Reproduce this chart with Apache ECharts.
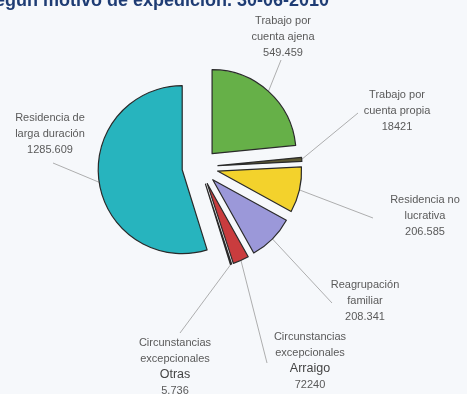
<!DOCTYPE html>
<html>
<head>
<meta charset="utf-8">
<style>
  html, body { margin: 0; padding: 0; background: #f6f8fb; }
  #chart { width: 467px; height: 394px; }
</style>
<script src="https://cdn.jsdelivr.net/npm/echarts@6/dist/echarts.min.js"></script>
</head>
<body>
<div id="chart"></div>
<script>
// Permits by type of authorisation
const categories = [
  'Trabajo por cuenta ajena',
  'Trabajo por cuenta propia',
  'Residencia no lucrativa',
  'Reagrupación familiar',
  'Circunstancias excepcionales Arraigo',
  'Circunstancias excepcionales Otras',
  'Residencia de larga duración'
];
const labelTitles = [
  ['Trabajo por', 'cuenta ajena'],
  ['Trabajo por', 'cuenta propia'],
  ['Residencia no', 'lucrativa'],
  ['Reagrupación', 'familiar'],
  ['Circunstancias', 'excepcionales', 'Arraigo'],
  ['Circunstancias', 'excepcionales', 'Otras'],
  ['Residencia de', 'larga duración']
];
const values = [549459, 18421, 206585, 208341, 72240, 5736, 1285609];
const valueTexts = ['549.459', '18421', '206.585', '208.341', '72240', '5.736', '1285.609'];
const colors = ['#66b048', '#5e5a34', '#f3d22c', '#9b98d9', '#c93c3e', '#5b2b2b', '#27b4be'];

// label block placement: [centre x, top y, leader elbow x, leader elbow y]
const labelPlaces = [
  [283, 13, 281, 60],
  [397, 87, 358, 113],
  [425, 192, 373, 218],
  [365, 277, 332, 303],
  [310, 329, 267, 363],
  [175, 335, 180, 333],
  [50, 110, 53, 163]
];

const pieCenter = [200, 167];
const pieRadius = 84;
const explode = 18;

const total = values.reduce((a, b) => a + b, 0);

// One pie per slice: every pie holds the full data set, only its own slice is
// painted, and its centre is pushed out along that slice's bisector.
const series = [];
let acc = 0;
values.forEach((v, k) => {
  const midFrac = (acc + v / 2) / total;
  acc += v;
  const ang = (90 - midFrac * 360) * Math.PI / 180;
  const cx = pieCenter[0] + explode * Math.cos(ang);
  const cy = pieCenter[1] - explode * Math.sin(ang);
  series.push({
    type: 'pie',
    name: categories[k],
    center: [cx, cy],
    radius: [0, pieRadius],
    startAngle: 90,
    clockwise: true,
    silent: true,
    avoidLabelOverlap: false,
    emphasis: { disabled: true },
    label: {
      show: true,
      position: 'outside',
      fontFamily: 'Liberation Sans',
      fontSize: 11,
      lineHeight: 16,
      color: '#5a5a5a',
      align: 'center',
      formatter: p => {
        const lines = labelTitles[p.dataIndex].slice();
        if (lines.length === 3) lines[2] = '{big|' + lines[2] + '}';
        return lines.join('\n') + '\n' + valueTexts[p.dataIndex];
      },
      rich: {
        big: { fontFamily: 'Liberation Sans', fontSize: 12.5, lineHeight: 16, color: '#444' }
      }
    },
    labelLine: { show: true, lineStyle: { color: '#9a9a9a', width: 0.8 } },
    labelLayout: params => {
      if (params.dataIndex !== k) return {};
      const pl = labelPlaces[k];
      const start = params.labelLinePoints ? params.labelLinePoints[0] : [pl[2], pl[3]];
      return {
        x: pl[0],
        y: pl[1],
        align: 'center',
        verticalAlign: 'top',
        labelLinePoints: [start, [pl[2], pl[3]], [pl[2], pl[3]]]
      };
    },
    data: categories.map((name, i) => i === k ? {
      name: name,
      value: values[i],
      itemStyle: { color: colors[i], borderColor: '#2a2a2a', borderWidth: 1.2 }
    } : {
      name: name,
      value: values[i],
      itemStyle: { color: 'rgba(0,0,0,0)', borderWidth: 0 },
      label: { show: false },
      labelLine: { show: false }
    })
  });
});

const chart = echarts.init(document.getElementById('chart'));

chart.setOption({
  backgroundColor: '#f6f8fb',
  animation: false,
  title: {
    text: 'según motivo de expedición. 30-06-2010',
    left: -20,
    top: -13,
    textStyle: { fontFamily: 'Liberation Sans', fontSize: 18, fontWeight: 'bold', color: '#1e3c74' }
  },
  series: series
});
</script>
</body>
</html>
